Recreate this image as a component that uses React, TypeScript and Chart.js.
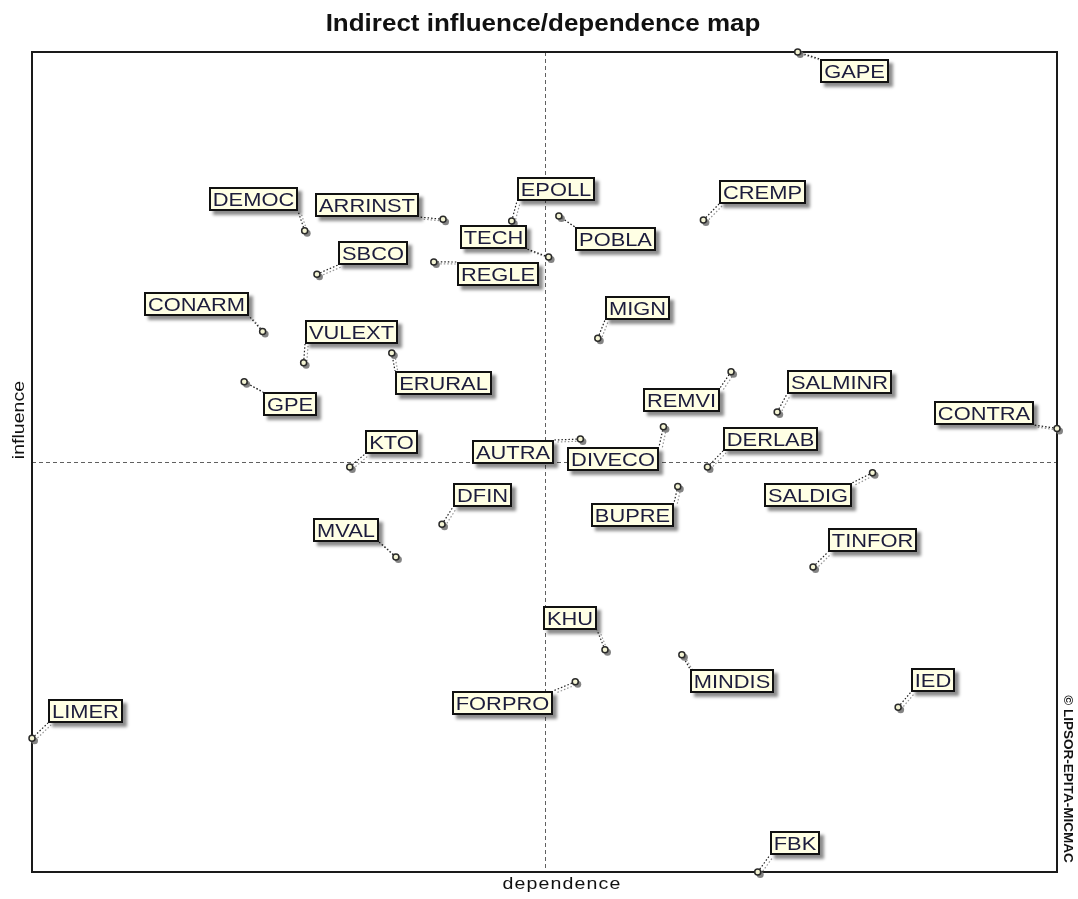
import React, { useEffect, useRef } from "react";
import { Chart, registerables } from "chart.js";

Chart.register(...registerables);

const variables = [
  "GAPE", "DEMOC", "ARRINST", "EPOLL", "TECH", "POBLA", "CREMP", "SBCO",
  "REGLE", "CONARM", "VULEXT", "MIGN", "ERURAL", "GPE", "REMVI", "SALMINR",
  "CONTRA", "KTO", "AUTRA", "DIVECO", "DERLAB", "DFIN", "BUPRE", "SALDIG",
  "MVAL", "TINFOR", "KHU", "MINDIS", "IED", "FORPRO", "LIMER", "FBK",
];
const dependence = [
  74.7, 26.6, 40.1, 46.8, 50.4, 51.4, 65.5, 27.8,
  39.2, 22.5, 26.5, 55.2, 35.1, 20.7, 68.2, 72.7,
  100.0, 31.0, 53.5, 61.6, 65.9, 40.0, 63.0, 82.0,
  35.5, 76.2, 55.9, 63.4, 84.5, 53.0, 0.0, 70.8,
];
const influence = [
  100.0, 78.2, 79.6, 79.4, 75.0, 80.0, 79.5, 72.9,
  74.4, 65.9, 62.1, 65.1, 63.3, 59.8, 61.0, 56.1,
  54.1, 49.4, 52.8, 54.3, 49.4, 42.4, 47.0, 48.7,
  38.4, 37.2, 27.1, 26.5, 20.1, 23.2, 16.3, 0.0,
];
const crossDependence = 50;
const crossInfluence = 50;

// ---- Label placement (pixel offsets of label centre from its point) ----
const labelDx = [
  57, -51, -76, 44, -55, 57, 59, 56,
  64, -66, 48, 40, 52, 46, -50, 62,
  -73, 42, -67, -50, 63, 40, -45, -65,
  -50, 59, -35, 50, 35, -73, 53, 37,
];
const labelDy = [
  19, -32, -14, -32, -20, 23, -28, -21,
  12, -28, -31, -30, 30, 22, 28, -30,
  -15, -25, 13, 32, -28, -29, 28, 22,
  -27, -27, -32, 26, -27, 21, -27, -29,
];

const TITLE = "Indirect influence/dependence map";
const X_TITLE = "dependence";
const Y_TITLE = "influence";
const CREDIT = "\u00A9 LIPSOR-EPITA-MICMAC";

const LABEL_FONT = "19px 'Liberation Sans', Arial, sans-serif";
const LABEL_SX = 1.15;
const BOX_H = 24;

function labelBox(ctx: CanvasRenderingContext2D, i: number, px: number, py: number) {
  ctx.save();
  ctx.font = LABEL_FONT;
  const tw = ctx.measureText(variables[i]).width * LABEL_SX;
  ctx.restore();
  const w = Math.round(tw + 8);
  const cx = px + labelDx[i];
  const cy = py + labelDy[i];
  const left = Math.round(cx - w / 2);
  const top = Math.round(cy - BOX_H / 2);
  return { left, top, w, h: BOX_H, cx, cy };
}

const mapPlugin = {
  id: "micmacMap",
  beforeDatasetsDraw(chart: any) {
    const { ctx, chartArea: a, scales } = chart;
    ctx.save();
    // crosshair
    const cx = Math.round(scales.x.getPixelForValue(crossDependence)) + 0.5;
    const cy = Math.round(scales.y.getPixelForValue(crossInfluence)) + 0.5;
    ctx.strokeStyle = "#606060";
    ctx.lineWidth = 1;
    ctx.setLineDash([4, 3]);
    ctx.beginPath();
    ctx.moveTo(cx, a.top);
    ctx.lineTo(cx, a.bottom);
    ctx.moveTo(a.left, cy);
    ctx.lineTo(a.right, cy);
    ctx.stroke();
    // frame
    ctx.setLineDash([]);
    ctx.strokeStyle = "#1a1a1a";
    ctx.lineWidth = 2;
    ctx.strokeRect(a.left, a.top, a.right - a.left, a.bottom - a.top);

    // leader lines
    const meta = chart.getDatasetMeta(0);
    meta.data.forEach((el: any, i: number) => {
      const b = labelBox(ctx, i, el.x, el.y);
      const ex = el.x < b.cx ? b.left : b.left + b.w;
      const ey = el.y < b.cy ? b.top : b.top + b.h;
      ctx.lineWidth = 1.2;
      ctx.setLineDash([1.5, 2]);
      ctx.strokeStyle = "rgba(120,120,120,0.8)";
      ctx.beginPath();
      ctx.moveTo(el.x + 3, el.y + 2);
      ctx.lineTo(ex + 3, ey + 2);
      ctx.stroke();
      ctx.strokeStyle = "#222";
      ctx.beginPath();
      ctx.moveTo(el.x, el.y);
      ctx.lineTo(ex, ey);
      ctx.stroke();
    });
    ctx.setLineDash([]);
    // point shadows
    ctx.fillStyle = "rgba(110,110,110,0.85)";
    meta.data.forEach((el: any) => {
      ctx.beginPath();
      ctx.arc(el.x + 2.5, el.y + 2.5, 3.5, 0, Math.PI * 2);
      ctx.fill();
    });
    ctx.restore();
  },
  afterDatasetsDraw(chart: any) {
    const { ctx } = chart;
    const meta = chart.getDatasetMeta(0);
    meta.data.forEach((el: any, i: number) => {
      const b = labelBox(ctx, i, el.x, el.y);
      ctx.save();
      ctx.shadowColor = "rgba(0,0,0,0.45)";
      ctx.shadowBlur = 3;
      ctx.shadowOffsetX = 4;
      ctx.shadowOffsetY = 4;
      ctx.fillStyle = "#ffffe4";
      ctx.fillRect(b.left, b.top, b.w, b.h);
      ctx.restore();
      ctx.save();
      ctx.strokeStyle = "#111";
      ctx.lineWidth = 2;
      ctx.strokeRect(b.left + 1, b.top + 1, b.w - 2, b.h - 2);
      ctx.font = LABEL_FONT;
      ctx.fillStyle = "#1c1c3c";
      ctx.textAlign = "center";
      ctx.textBaseline = "alphabetic";
      ctx.translate(b.left + b.w / 2, b.top + 19);
      ctx.scale(LABEL_SX, 1);
      ctx.fillText(variables[i], 0, 0);
      ctx.restore();
    });
  },
  afterDraw(chart: any) {
    const { ctx } = chart;
    ctx.save();
    ctx.fillStyle = "#111";
    ctx.textAlign = "center";
    ctx.textBaseline = "alphabetic";
    // title
    ctx.save();
    ctx.font = "bold 23px 'Liberation Sans', Arial, sans-serif";
    ctx.translate(543, 31);
    ctx.scale(1.13, 1);
    ctx.fillText(TITLE, 0, 0);
    ctx.restore();
    // x title
    ctx.save();
    ctx.font = "17px 'Liberation Sans', Arial, sans-serif";
    (ctx as any).letterSpacing = "1px";
    ctx.translate(562, 889);
    ctx.scale(1.15, 1);
    ctx.fillText(X_TITLE, 0, 0);
    ctx.restore();
    // y title
    ctx.save();
    ctx.font = "17px 'Liberation Sans', Arial, sans-serif";
    ctx.translate(24, 420);
    ctx.rotate(-Math.PI / 2);
    ctx.scale(1.15, 1);
    ctx.fillText(Y_TITLE, 0, 0);
    ctx.restore();
    // credit
    ctx.save();
    ctx.font = "bold 13px 'Liberation Sans', Arial, sans-serif";
    ctx.translate(1064, 779);
    ctx.rotate(Math.PI / 2);
    ctx.scale(1.04, 1);
    ctx.fillText(CREDIT, 0, 0);
    ctx.restore();
    ctx.restore();
  },
};

export default function App() {
  const ref = useRef<HTMLCanvasElement | null>(null);
  useEffect(() => {
    if (!ref.current) return;
    const chart = new Chart(ref.current, {
      type: "scatter",
      data: {
        datasets: [
          {
            label: "variables",
            data: variables.map((_, i) => ({ x: dependence[i], y: influence[i] })),
            pointRadius: 3,
            pointBorderWidth: 1.5,
            borderColor: "#2a2a2a",
            backgroundColor: "#f4f4d4",
            clip: false as any,
          },
        ],
      },
      options: {
        responsive: false,
        animation: false,
        devicePixelRatio: 1,
        layout: { padding: { left: 32, top: 52, right: 21, bottom: 27 } },
        scales: {
          x: { type: "linear", min: 0, max: 100, display: false },
          y: { type: "linear", min: 0, max: 100, display: false },
        },
        plugins: {
          legend: { display: false },
          tooltip: { enabled: false },
          title: { display: false },
        },
        events: [],
      },
      plugins: [mapPlugin],
    });
    return () => chart.destroy();
  }, []);
  return (
    <div style={{ position: "absolute", left: 0, top: 0, width: 1078, height: 899, background: "#fff" }}>
      <canvas ref={ref} width={1078} height={899} />
    </div>
  );
}
